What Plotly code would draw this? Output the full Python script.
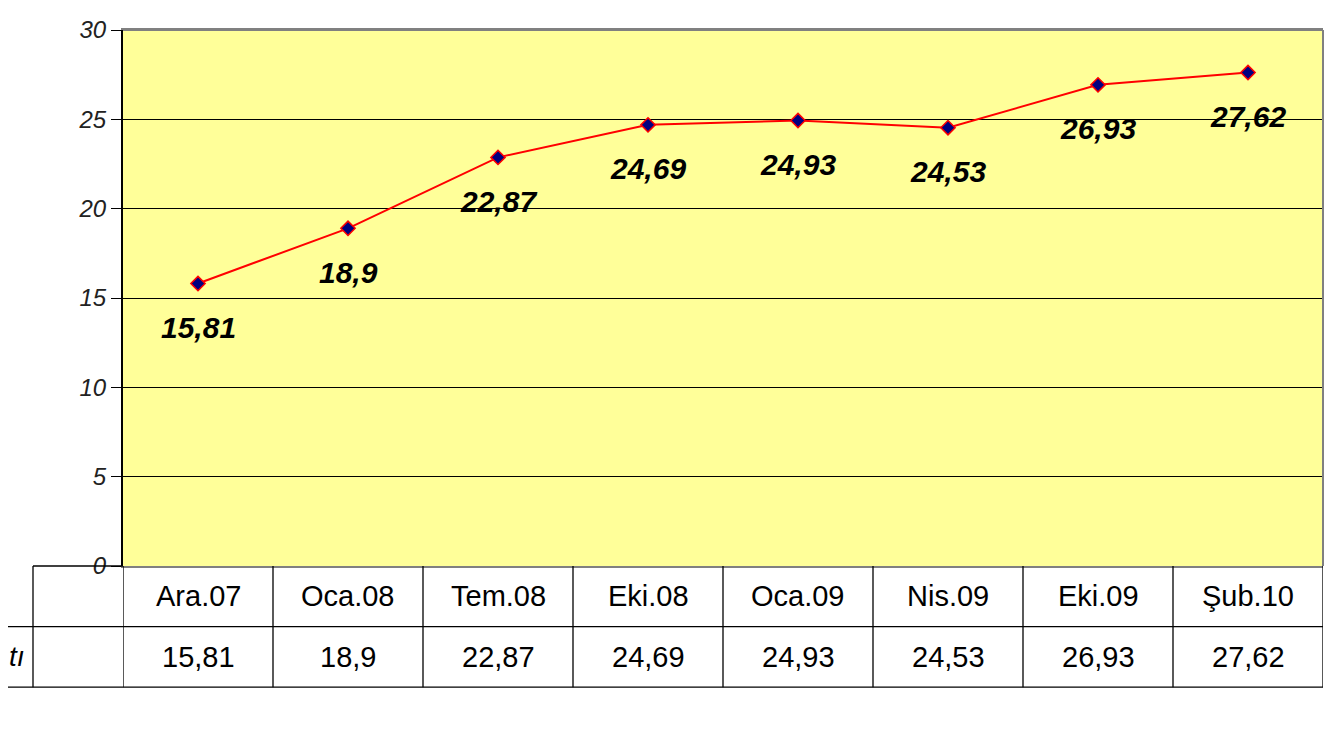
import plotly.graph_objects as go

categories = ["Ara.07", "Oca.08", "Tem.08", "Eki.08", "Oca.09", "Nis.09", "Eki.09", "Şub.10"]
values = [15.81, 18.9, 22.87, 24.69, 24.93, 24.53, 26.93, 27.62]
value_labels = ["15,81", "18,9", "22,87", "24,69", "24,93", "24,53", "26,93", "27,62"]
y_ticks = [0, 5, 10, 15, 20, 25, 30]
series_label = "tı"

FONT = "Liberation Sans, Arial, sans-serif"

fig = go.Figure()
fig.add_trace(go.Scatter(
    x=list(range(len(categories))), y=values, mode="lines+markers",
    line=dict(color="#ff0000", width=2),
    marker=dict(symbol="diamond", size=11, color="#000080",
                line=dict(color="#ff0000", width=1.5)),
    hoverinfo="skip", showlegend=False,
))

# data labels
for i, (v, lab) in enumerate(zip(values, value_labels)):
    fig.add_annotation(x=i, y=v, text=f"<b><i>{lab}</i></b>", showarrow=False,
                       yanchor="middle", yshift=-44,
                       font=dict(family=FONT, size=30, color="black"))

# data table below plot
row_top = 0.0
row_mid = -0.113
row_bot = -0.226
line_style = dict(color="black", width=1.3)
n = len(categories)
for i in range(n + 1):
    fig.add_shape(type="line", xref="x", yref="paper", x0=i - 0.5, x1=i - 0.5,
                  y0=row_top, y1=row_bot, line=line_style)
fig.add_shape(type="line", xref="paper", yref="paper", x0=-0.1, x1=1,
              y0=row_mid, y1=row_mid, line=line_style)
fig.add_shape(type="line", xref="paper", yref="paper", x0=-0.1, x1=1,
              y0=row_bot, y1=row_bot, line=line_style)
fig.add_shape(type="line", xref="paper", yref="paper", x0=-0.075, x1=-0.075,
              y0=row_top, y1=row_bot, line=line_style)
fig.add_shape(type="line", xref="paper", yref="paper", x0=-0.075, x1=0,
              y0=row_top, y1=row_top, line=line_style)
for i, (c, lab) in enumerate(zip(categories, value_labels)):
    fig.add_annotation(x=i, y=(row_top + row_mid) / 2, xref="x", yref="paper",
                       yanchor="middle", text=c, showarrow=False,
                       font=dict(family=FONT, size=29, color="black"))
    fig.add_annotation(x=i, y=(row_mid + row_bot) / 2, xref="x", yref="paper",
                       yanchor="middle", text=lab, showarrow=False,
                       font=dict(family=FONT, size=29, color="black"))
fig.add_annotation(x=-0.08, y=(row_mid + row_bot) / 2, xref="paper", yref="paper",
                   xanchor="right", yanchor="middle", text=f"<i>{series_label}</i>",
                   showarrow=False, font=dict(family=FONT, size=28, color="black"))

fig.update_layout(
    width=1340, height=743,
    margin=dict(l=115, r=25, t=22, b=185, autoexpand=False),
    paper_bgcolor="white",
    plot_bgcolor="#ffff99",
    font=dict(family=FONT),
    xaxis=dict(range=[-0.5, n - 0.5], showticklabels=False, showgrid=False,
               zeroline=False, showline=True, linecolor="#808080", linewidth=1.5,
               mirror=True, fixedrange=True),
    yaxis=dict(range=[0, 30], tickvals=y_ticks, ticktext=[f"<i>{t}</i>" for t in y_ticks],
               tickfont=dict(family=FONT, size=24, color="#222222"),
               showgrid=True, gridcolor="#000000", gridwidth=1,
               zeroline=False, showline=True, linecolor="black", linewidth=2,
               ticks="outside", ticklen=10, tickcolor="black",
               mirror=False, fixedrange=True),
)
fig.add_shape(type="line", xref="paper", yref="paper", x0=1, x1=1, y0=0, y1=1,
              line=dict(color="#808080", width=2))
fig.add_shape(type="line", xref="paper", yref="paper", x0=0, x1=1, y0=1, y1=1,
              line=dict(color="#808080", width=2))

fig.write_html("out.html")
